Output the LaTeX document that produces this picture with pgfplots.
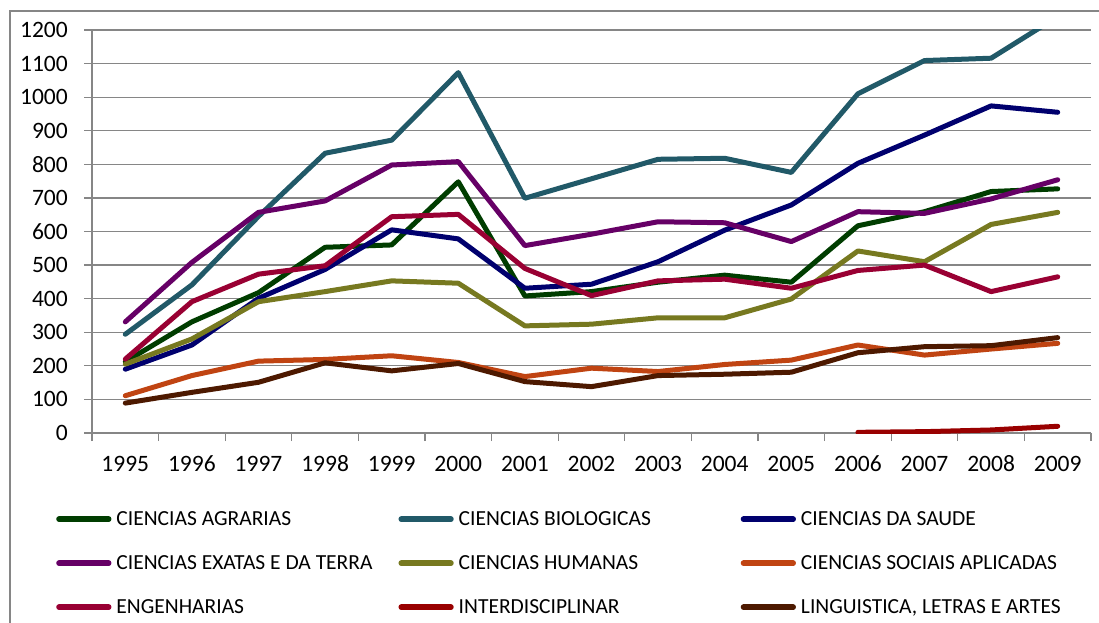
\documentclass[border=0pt]{standalone}
\usepackage{fontspec}
\setmainfont{Carlito}
\usepackage{pgfplots}
\pgfplotsset{compat=1.18}

\definecolor{gridgray}{RGB}{134,134,134}
\definecolor{cagr}{RGB}{0,61,0}
\definecolor{cbio}{RGB}{33,89,104}
\definecolor{csau}{RGB}{0,0,110}
\definecolor{cexa}{RGB}{102,0,102}
\definecolor{chum}{RGB}{119,121,32}
\definecolor{csoc}{RGB}{192,68,18}
\definecolor{ceng}{RGB}{153,0,51}
\definecolor{cint}{RGB}{153,0,0}
\definecolor{clin}{RGB}{77,25,0}

\begin{document}
\begin{tikzpicture}[x=1pt,y=1pt]
\useasboundingbox (0,0) rectangle (1099,623);
\draw[line width=1.3pt, color=gridgray] (10,0) -- (10,612) -- (1099,612);
\begin{axis}[
    at={(92pt,190pt)}, anchor=south west,
    scale only axis, width=999pt, height=403pt,
    xmin=-0.5, xmax=14.5, ymin=0, ymax=1200,
    axis x line*=bottom, axis y line*=left,
    axis line style={gridgray, line width=1.3pt, -},
    xtick={-0.5,0.5,...,14.5},
    xticklabels={1995,1996,1997,1998,1999,2000,2001,2002,2003,2004,2005,2006,2007,2008,2009},
    x tick label as interval,
    ytick={0,100,...,1200},
    tick align=outside, major tick length=8pt,
    tick style={gridgray, line width=1.3pt},
    ymajorgrids, major grid style={gridgray, line width=1.3pt},
    ticklabel style={font=\fontsize{23.5}{27}\selectfont, inner sep=0pt},
    yticklabel style={/pgf/number format/1000 sep={}, /pgf/number format/assume math mode=true, xshift=-16pt},
    xticklabel style={anchor=north, text height=15pt, text depth=0pt, yshift=-15pt},
    every axis plot/.append style={line width=5pt, line join=round, line cap=round, mark=none},
    legend columns=3,
    legend style={at={(axis description cs:-0.036,-0.1935)}, anchor=north west,
        draw=none, fill=none, inner sep=0pt, column sep=0pt, row sep=26pt,
        /tikz/every odd column/.append style={column sep=5pt},
        nodes={inner sep=0pt, text height=14pt, text depth=4pt, anchor=base west,
               font=\fontsize{21.5}{24}\selectfont}},
    legend image code/.code={\draw[#1, line width=5.5pt, line cap=round] (2.75pt,6pt) -- (52.5pt,6pt);},
]
\addplot[cagr] coordinates {(0,212) (1,331) (2,418) (3,553) (4,560) (5,748) (6,408) (7,421) (8,449) (9,470) (10,449) (11,617) (12,659) (13,719) (14,727)};
\addlegendentry{\makebox[282pt][l]{CIENCIAS AGRARIAS}}
\addplot[cbio] coordinates {(0,294) (1,441) (2,645) (3,833) (4,872) (5,1073) (6,699) (7,757) (8,815) (9,818) (10,776) (11,1010) (12,1109) (13,1116) (14,1240)};
\addlegendentry{\makebox[282pt][l]{CIENCIAS BIOLOGICAS}}
\addplot[csau] coordinates {(0,190) (1,262) (2,401) (3,487) (4,605) (5,578) (6,431) (7,443) (8,510) (9,604) (10,679) (11,803) (12,887) (13,974) (14,955)};
\addlegendentry{CIENCIAS DA SAUDE}
\addplot[cexa] coordinates {(0,331) (1,508) (2,657) (3,691) (4,798) (5,808) (6,558) (7,592) (8,629) (9,626) (10,570) (11,659) (12,654) (13,697) (14,754)};
\addlegendentry{\makebox[282pt][l]{CIENCIAS EXATAS E DA TERRA}}
\addplot[chum] coordinates {(0,205) (1,280) (2,391) (3,421) (4,453) (5,446) (6,319) (7,324) (8,343) (9,343) (10,399) (11,542) (12,510) (13,621) (14,657)};
\addlegendentry{\makebox[282pt][l]{CIENCIAS HUMANAS}}
\addplot[csoc] coordinates {(0,111) (1,171) (2,214) (3,219) (4,230) (5,210) (6,168) (7,193) (8,183) (9,204) (10,217) (11,262) (12,232) (13,250) (14,267)};
\addlegendentry{CIENCIAS SOCIAIS APLICADAS}
\addplot[ceng] coordinates {(0,220) (1,391) (2,473) (3,498) (4,644) (5,651) (6,490) (7,409) (8,453) (9,458) (10,431) (11,484) (12,500) (13,421) (14,465)};
\addlegendentry{\makebox[282pt][l]{ENGENHARIAS}}
\addplot[cint] coordinates {(11,2) (12,4) (13,9) (14,20)};
\addlegendentry{\makebox[282pt][l]{INTERDISCIPLINAR}}
\addplot[clin] coordinates {(0,89) (1,121) (2,151) (3,209) (4,185) (5,207) (6,153) (7,138) (8,171) (9,175) (10,181) (11,239) (12,257) (13,260) (14,284)};
\addlegendentry{LINGUISTICA, LETRAS E ARTES}
\end{axis}
\end{tikzpicture}
\end{document}
